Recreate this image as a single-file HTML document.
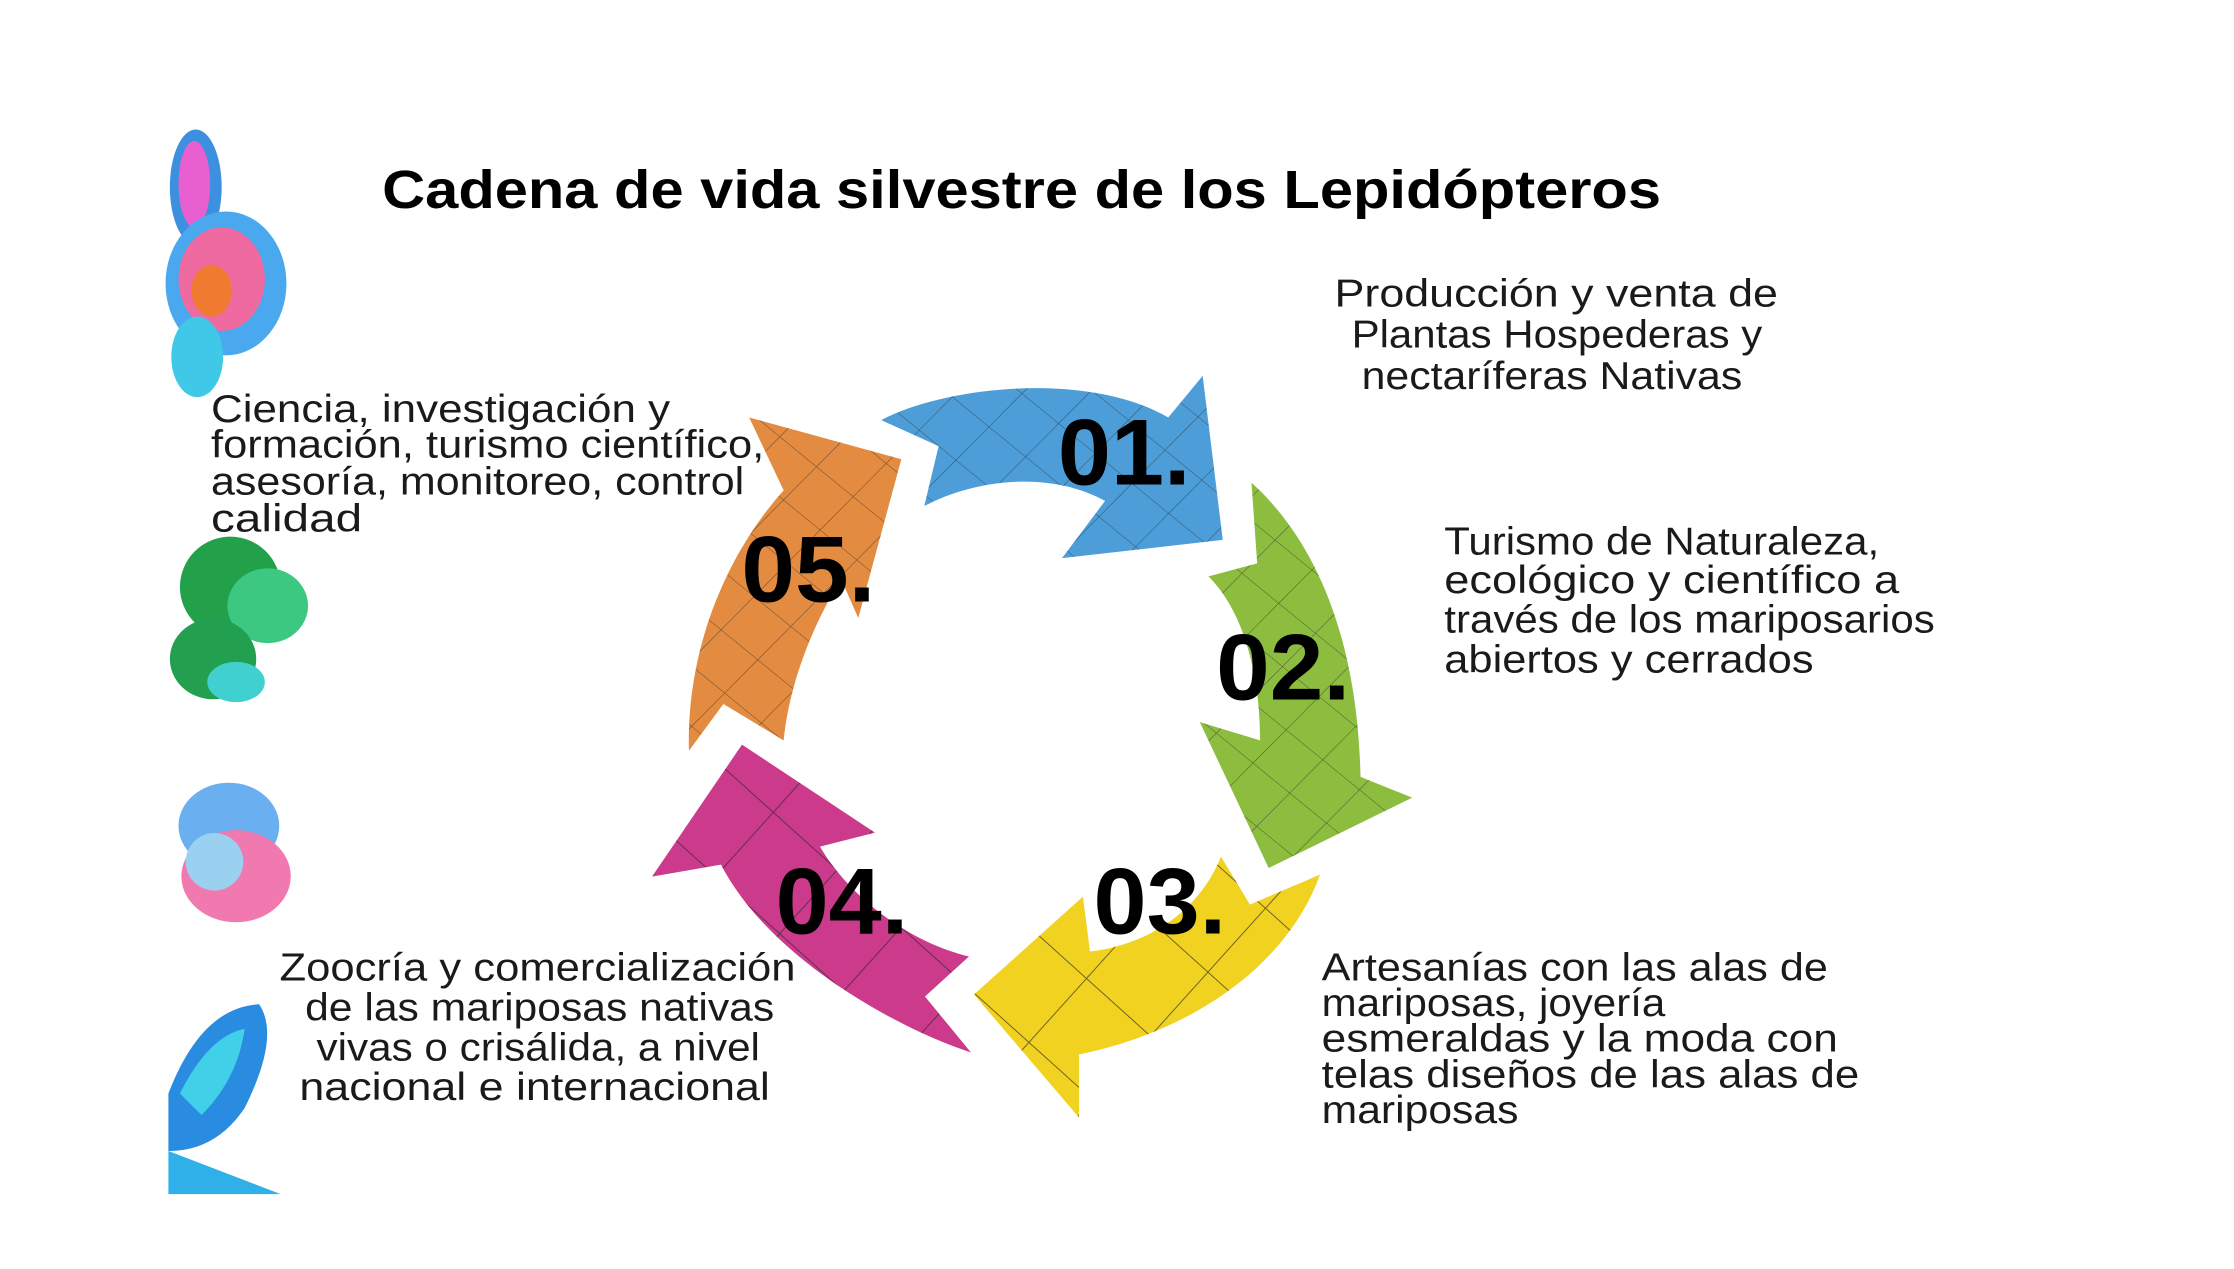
<!DOCTYPE html>
<html><head><meta charset="utf-8">
<style>
html,body{margin:0;padding:0;background:#fff;}
svg{display:block;}
.t{font-family:"Liberation Sans",sans-serif;font-size:27px;fill:#1a1a1a;}
.n{font-family:"Liberation Sans",sans-serif;font-weight:bold;font-size:66px;fill:#000;}
</style></head>
<body>
<svg width="2234" height="1269" viewBox="0 0 1552 882" preserveAspectRatio="none" xmlns="http://www.w3.org/2000/svg">
<defs>
<pattern id="grid" width="86" height="86" patternUnits="userSpaceOnUse" patternTransform="rotate(42)">
<path d="M0 0H86M0 0V86" stroke="#2a2a2a" stroke-width="2" fill="none" opacity="0.65"/>
</pattern>
</defs>
<rect width="1552" height="882" fill="#fff"/>
<!-- butterflies -->
<g>
<ellipse cx="136" cy="130" rx="18" ry="40" fill="#3d8fe0"/>
<ellipse cx="135" cy="128" rx="11" ry="30" fill="#e860d0"/>
<ellipse cx="157" cy="197" rx="42" ry="50" fill="#4aa8ee"/>
<ellipse cx="154" cy="194" rx="30" ry="36" fill="#ef6aa0"/>
<ellipse cx="147" cy="202" rx="14" ry="18" fill="#f07a30"/>
<ellipse cx="137" cy="248" rx="18" ry="28" fill="#40c8e8"/>
<ellipse cx="160" cy="408" rx="35" ry="35" fill="#22a04a"/>
<ellipse cx="186" cy="421" rx="28" ry="26" fill="#3cc880"/>
<ellipse cx="148" cy="458" rx="30" ry="28" fill="#22a050"/>
<ellipse cx="164" cy="474" rx="20" ry="14" fill="#40d0d0"/>
<ellipse cx="159" cy="574" rx="35" ry="30" fill="#6ab0f0"/>
<ellipse cx="164" cy="609" rx="38" ry="32" fill="#f07ab0"/>
<ellipse cx="149" cy="599" rx="20" ry="20" fill="#9ad0f0"/>
<path d="M117 760 Q140 700 180 698 Q195 720 170 770 Q150 800 117 800Z" fill="#2a8ce0"/>
<path d="M125 760 Q145 720 170 715 Q165 750 140 775Z" fill="#40d0e8"/>
<path d="M117 800 L195 830 L117 830Z" fill="#30b0e8"/>
</g>
<g transform="scale(0.6947)">
 <g transform="translate(600,350) scale(0.574,0.521)">
  <path d="M490 135 C600 70 850 40 990 130 L1050 50 L1085 365 L805 400 L880 290 C780 230 650 250 565 300 L590 185 Z" fill="#4d9ed8"/>
  <path d="M1135 255 C1250 370 1320 560 1325 820 L1415 860 L1165 995 L1045 715 L1150 750 C1150 620 1120 500 1060 435 L1145 410 Z" fill="#8dbd3e"/>
  <path d="M155 770 C150 560 230 380 320 270 L260 130 L525 210 L450 515 L420 440 C370 530 330 640 320 750 L215 680 Z" fill="#e38b40"/>
 </g>
 <path d="M971 1053 C900 1030 770 960 721 865 L652 877 L742 745 L875 833 L820 847 C845 890 900 940 969 957 L925 997 Z" fill="#cc3a8c"/>
 <path d="M1320 875 C1290 960 1200 1030 1079 1055 L1079 1118 L974 995 L1083 897 L1090 952 C1150 945 1200 910 1221 857 L1250 905 Z" fill="#f1d220"/>
 <g fill="url(#grid)">
  <g transform="translate(600,350) scale(0.574,0.521)">
   <path d="M490 135 C600 70 850 40 990 130 L1050 50 L1085 365 L805 400 L880 290 C780 230 650 250 565 300 L590 185 Z"/>
   <path d="M1135 255 C1250 370 1320 560 1325 820 L1415 860 L1165 995 L1045 715 L1150 750 C1150 620 1120 500 1060 435 L1145 410 Z"/>
   <path d="M155 770 C150 560 230 380 320 270 L260 130 L525 210 L450 515 L420 440 C370 530 330 640 320 750 L215 680 Z"/>
  </g>
  <path d="M971 1053 C900 1030 770 960 721 865 L652 877 L742 745 L875 833 L820 847 C845 890 900 940 969 957 L925 997 Z"/>
  <path d="M1320 875 C1290 960 1200 1030 1079 1055 L1079 1118 L974 995 L1083 897 L1090 952 C1150 945 1200 910 1221 857 L1250 905 Z"/>
 </g>
</g>
<g transform="scale(0.9905)">
<!-- title -->
<text x="268" y="146" font-family="Liberation Sans,sans-serif" font-weight="bold" font-size="38" textLength="897" lengthAdjust="spacingAndGlyphs">Cadena de vida silvestre de los Lepidópteros</text>
<!-- numbers -->
<text class="n" x="742" y="340" textLength="93" lengthAdjust="spacingAndGlyphs">01.</text>
<text class="n" x="853" y="491" textLength="94" lengthAdjust="spacingAndGlyphs">02.</text>
<text class="n" x="767" y="655" textLength="93" lengthAdjust="spacingAndGlyphs">03.</text>
<text class="n" x="544" y="655" textLength="93" lengthAdjust="spacingAndGlyphs">04.</text>
<text class="n" x="520" y="422" textLength="94" lengthAdjust="spacingAndGlyphs">05.</text>
<!-- labels -->
<g class="t">
<text x="936" y="215" textLength="311" lengthAdjust="spacingAndGlyphs">Producción y venta de</text>
<text x="948" y="244" textLength="288" lengthAdjust="spacingAndGlyphs">Plantas Hospederas y</text>
<text x="955" y="273" textLength="267" lengthAdjust="spacingAndGlyphs">nectaríferas Nativas</text>

<text x="1013" y="389" textLength="305" lengthAdjust="spacingAndGlyphs">Turismo de Naturaleza,</text>
<text x="1013" y="416" textLength="319" lengthAdjust="spacingAndGlyphs">ecológico y científico a</text>
<text x="1013" y="444" textLength="344" lengthAdjust="spacingAndGlyphs">través de los mariposarios</text>
<text x="1013" y="472" textLength="259" lengthAdjust="spacingAndGlyphs">abiertos y cerrados</text>

<text x="927" y="688" textLength="355" lengthAdjust="spacingAndGlyphs">Artesanías  con las alas de</text>
<text x="927" y="713" textLength="241" lengthAdjust="spacingAndGlyphs">mariposas, joyería</text>
<text x="927" y="738" textLength="362" lengthAdjust="spacingAndGlyphs">esmeraldas y la moda con</text>
<text x="927" y="763" textLength="377" lengthAdjust="spacingAndGlyphs">telas  diseños  de las alas de</text>
<text x="927" y="788" textLength="138" lengthAdjust="spacingAndGlyphs">mariposas</text>

<text x="148" y="296" textLength="322" lengthAdjust="spacingAndGlyphs">Ciencia, investigación y</text>
<text x="148" y="321" textLength="388" lengthAdjust="spacingAndGlyphs">formación, turismo científico,</text>
<text x="148" y="347" textLength="374" lengthAdjust="spacingAndGlyphs">asesoría, monitoreo, control</text>
<text x="148" y="373" textLength="106" lengthAdjust="spacingAndGlyphs">calidad</text>

<text x="196" y="688" textLength="362" lengthAdjust="spacingAndGlyphs">Zoocría y comercialización</text>
<text x="214" y="716" textLength="329" lengthAdjust="spacingAndGlyphs">de las mariposas nativas</text>
<text x="222" y="744" textLength="311" lengthAdjust="spacingAndGlyphs">vivas o crisálida, a nivel</text>
<text x="210" y="772" textLength="330" lengthAdjust="spacingAndGlyphs">nacional e internacional</text>
</g>
</g>
</svg>
</body></html>
